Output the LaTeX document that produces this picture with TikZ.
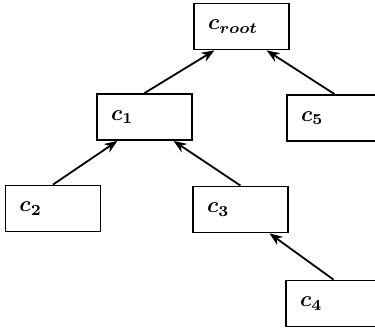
\documentclass[tikz,border=0pt]{standalone}
\usepackage{graphicx}
\usetikzlibrary{arrows.meta,calc}
\newcommand{\lbl}[1]{\scalebox{2.2}{\boldmath$#1$}}
\begin{document}
\begin{tikzpicture}[x=1pt,y=-1pt,
  box/.style={draw, line width=1.8pt, minimum width=95pt, minimum height=46pt,
    text width=67pt, inner xsep=14pt, inner ysep=0pt, align=left},
  link/.style={line width=1.8pt, -{Stealth[length=13pt,width=10pt]}}]
\useasboundingbox (0,0) rectangle (375,335);
\clip (0,0) rectangle (375,335);
\node[box] (root) at (241.5,26.5) {\lbl{c_{root}}};
\node[box] (c1) at (144.5,117) {\lbl{c_1}};
\node[box] (c5) at (334.5,118) {\lbl{c_5}};
\node[box] (c2) at (53,208.5) {\lbl{c_2}};
\node[box] (c3) at (240.5,209.5) {\lbl{c_3}};
\node[box] (c4) at (333.5,303.5) {\lbl{c_4}};
\draw[link] (c1.north) -- ($(root.south west)!0.22!(root.south east)$);
\draw[link] (c5.north) -- ($(root.south west)!0.76!(root.south east)$);
\draw[link] (c2.north) -- ($(c1.south west)!0.22!(c1.south east)$);
\draw[link] (c3.north) -- ($(c1.south west)!0.8!(c1.south east)$);
\draw[link] (c4.north) -- ($(c3.south west)!0.8!(c3.south east)$);
\end{tikzpicture}
\end{document}
